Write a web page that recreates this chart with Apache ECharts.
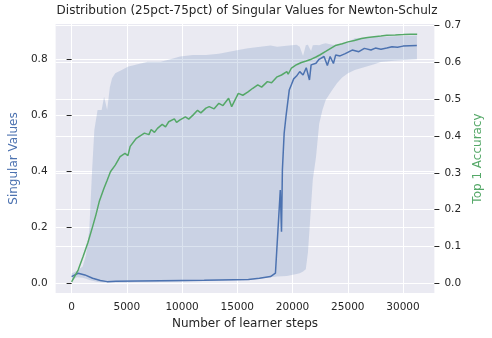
<!DOCTYPE html>
<html>
<head>
<meta charset="utf-8">
<script src="https://cdn.jsdelivr.net/npm/echarts@6.0.0/dist/echarts.min.js"></script>
<style>
  html, body { margin: 0; padding: 0; background: #fff; }
  #chart { width: 492px; height: 338px; }
</style>
</head>
<body>
<div id="chart"></div>
<script>
// top 1 accuracy (right axis)
const accSteps = [0, 590, 1030, 1470, 1900, 2200, 2500, 2930, 3220, 3515, 3950, 4390, 4830, 5100, 5300,
  5860, 6590, 7000, 7200, 7500, 7770, 8200, 8500, 8790, 9300, 9500, 9815, 10300, 10600, 10985, 11400,
  11700, 12160, 12455, 12900, 13330, 13700, 14210, 14490, 15090, 15500, 15970, 16400, 16850, 17200,
  17720, 18100, 18600, 19000, 19480, 19600, 19900, 20360, 20800, 21240, 21700, 22120, 22500, 23000, 23870,
  24500, 25020, 25600, 26240, 26800, 27390, 28000, 28530, 29300, 30030, 30700, 31280]
const accValues = [0.004, 0.036, 0.072, 0.11, 0.154, 0.186, 0.222, 0.258, 0.28, 0.303, 0.321, 0.344, 0.353, 0.347, 0.372,
  0.394, 0.408, 0.404, 0.418, 0.41, 0.421, 0.432, 0.425, 0.439, 0.447, 0.437, 0.444, 0.452, 0.446, 0.457, 0.47,
  0.463, 0.476, 0.48, 0.474, 0.489, 0.483, 0.503, 0.48, 0.516, 0.511, 0.52, 0.53, 0.539, 0.533,
  0.548, 0.545, 0.561, 0.566, 0.575, 0.568, 0.585, 0.594, 0.6, 0.604, 0.609, 0.615, 0.621, 0.63, 0.646,
  0.651, 0.656, 0.66, 0.665, 0.668, 0.67, 0.672, 0.674, 0.675, 0.676, 0.677, 0.677]

// median singular value (left axis)
const svSteps = [0, 590, 1200, 1900, 2600, 3220, 4000, 8000, 12000, 16000, 17000, 18000, 18450, 18890,
  19000, 19080, 19240, 19420, 19700, 19920, 20100, 20360, 20650, 20950, 21240, 21530, 21680, 22120,
  22400, 22850, 23150, 23400, 23700, 23900, 24300, 24770, 25400, 26000, 26500, 27100, 27500, 28000,
  28530, 29000, 29500, 30000, 30600, 31250]
const svMedian = [0.024, 0.036, 0.03, 0.018, 0.01, 0.006, 0.007, 0.009, 0.011, 0.014, 0.018, 0.024, 0.036, 0.333,
  0.184, 0.405, 0.536, 0.601, 0.69, 0.712, 0.73, 0.74, 0.756, 0.744, 0.77, 0.726, 0.78, 0.786,
  0.8, 0.81, 0.778, 0.81, 0.785, 0.815, 0.812, 0.82, 0.833, 0.827, 0.839, 0.833, 0.84, 0.836,
  0.84, 0.845, 0.843, 0.847, 0.848, 0.849]

// 25pct / 75pct band (left axis)
const bandSteps = [0, 500, 1000, 1300, 1600, 1850, 2060, 2350, 2720, 2940, 3220, 3460, 3660, 3950, 4540,
  5130, 5710, 6890, 8060, 8940, 9820, 10990, 12160, 13330, 15090, 15970, 18010, 18600, 19480, 20360,
  20650, 20950, 21200, 21390, 21530, 21680, 21830, 22120, 22410, 22710, 23000, 23590, 24020, 24490,
  25020, 25630, 26780, 27390, 27990, 29150, 31260]
const bandHigh = [0.035, 0.045, 0.06, 0.1, 0.19, 0.4, 0.548, 0.619, 0.619, 0.666, 0.619, 0.7, 0.732, 0.75, 0.762,
  0.774, 0.78, 0.791, 0.791, 0.8, 0.81, 0.815, 0.815, 0.82, 0.833, 0.839, 0.849, 0.845, 0.848, 0.852,
  0.845, 0.812, 0.85, 0.852, 0.84, 0.83, 0.85, 0.851, 0.85, 0.855, 0.857, 0.852, 0.851, 0.857,
  0.86, 0.875, 0.878, 0.88, 0.88, 0.882, 0.885]
const bandLow = [0.012, 0.022, 0.02, 0.016, 0.012, 0.009, 0.007, 0.005, 0.004, 0.003, 0.003, 0.003, 0.003, 0.003, 0.003,
  0.003, 0.004, 0.004, 0.005, 0.005, 0.006, 0.007, 0.008, 0.009, 0.011, 0.012, 0.022, 0.024, 0.026, 0.033,
  0.036, 0.042, 0.05, 0.11, 0.19, 0.28, 0.37, 0.45, 0.57, 0.62, 0.655, 0.69, 0.714, 0.735,
  0.75, 0.762, 0.775, 0.782, 0.79, 0.795, 0.8]

const xTicks = [0, 5000, 10000, 15000, 20000, 25000, 30000]
const svTicks = [0, 0.2, 0.4, 0.6, 0.8]
const accTicks = [0, 0.1, 0.2, 0.3, 0.4, 0.5, 0.6, 0.7]

const FONT = 'DejaVu Sans'
const BLUE = '#4C72B0'
const GREEN = '#55A868'
const TXT = '#262626'

function pairs(xs, ys) {
  return xs.map((x, i) => [x, ys[i]])
}

// whole band as one polygon, drawn on the first data item
function renderBand(params, api) {
  if (params.dataIndex !== 0) return null
  const top = bandSteps.map((s, i) => api.coord([s, bandHigh[i]]))
  const bottom = bandSteps.map((s, i) => api.coord([s, bandLow[i]])).reverse()
  return {
    type: 'polygon',
    shape: { points: top.concat(bottom) },
    style: { fill: 'rgba(76,114,176,0.2)' }
  }
}

const chart = echarts.init(document.getElementById('chart'))
chart.setOption({
  animation: false,
  textStyle: { fontFamily: FONT },
  title: {
    text: 'Distribution (25pct-75pct) of Singular Values for Newton-Schulz',
    left: 247,
    textAlign: 'center',
    top: 5,
    padding: 0,
    textStyle: { fontFamily: FONT, fontSize: 12, fontWeight: 'normal', color: TXT }
  },
  grid: {
    left: 52, right: 50, top: 24, bottom: 45,
    show: true, backgroundColor: '#EAEAF2', borderWidth: 0
  },
  xAxis: {
    type: 'value',
    min: -1450, max: 32840,
    name: 'Number of learner steps',
    nameLocation: 'middle',
    nameGap: 24,
    nameTextStyle: { fontFamily: FONT, fontSize: 12, color: TXT },
    axisLine: { show: false },
    axisTick: { show: false, customValues: xTicks },
    axisLabel: { customValues: xTicks, formatter: v => String(v), fontFamily: FONT, fontSize: 10.5, color: TXT, margin: 9 },
    splitLine: { show: true, lineStyle: { color: '#fff', width: 1 } }
  },
  yAxis: [{
    type: 'value',
    min: -0.0346, max: 0.926,
    name: 'Singular Values',
    nameLocation: 'middle',
    nameRotate: 90,
    nameGap: 32,
    nameTextStyle: { fontFamily: FONT, fontSize: 12, color: BLUE },
    axisLine: { show: false },
    axisTick: { show: true, length: 5, customValues: svTicks, lineStyle: { color: TXT } },
    axisLabel: { customValues: svTicks, formatter: v => v.toFixed(1), fontFamily: FONT, fontSize: 10.5, color: TXT, margin: 8 },
    splitLine: { show: true, lineStyle: { color: '#fff', width: 1 } }
  }, {
    type: 'value',
    position: 'right',
    min: -0.0264, max: 0.7046,
    name: 'Top 1 Accuracy',
    nameLocation: 'middle',
    nameRotate: 90,
    nameGap: 29,
    nameTextStyle: { fontFamily: FONT, fontSize: 12, color: GREEN },
    axisLine: { show: false },
    axisTick: { show: true, length: 5, customValues: accTicks, lineStyle: { color: TXT } },
    axisLabel: { customValues: accTicks, formatter: v => v.toFixed(1), fontFamily: FONT, fontSize: 10.5, color: TXT, margin: 10 },
    splitLine: { show: true, lineStyle: { color: '#fff', width: 1 } }
  }],
  series: [{
    name: 'band',
    type: 'custom',
    yAxisIndex: 0,
    renderItem: renderBand,
    encode: { x: 0, y: 1 },
    data: pairs(bandSteps, bandHigh),
    z: 1
  }, {
    name: 'median',
    type: 'line',
    yAxisIndex: 0,
    symbol: 'none',
    lineStyle: { color: BLUE, width: 1.5 },
    data: pairs(svSteps, svMedian),
    z: 2
  }, {
    name: 'accuracy',
    type: 'line',
    yAxisIndex: 1,
    symbol: 'none',
    lineStyle: { color: GREEN, width: 1.5 },
    data: pairs(accSteps, accValues),
    z: 3
  }]
})
</script>
</body>
</html>
